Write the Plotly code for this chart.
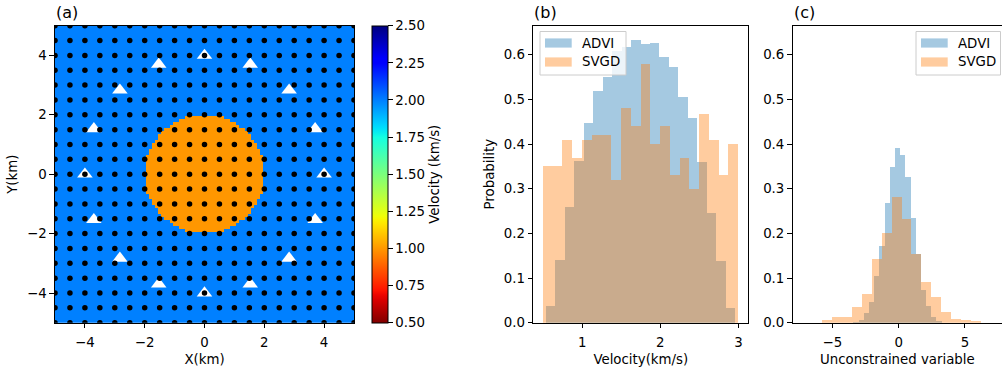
import numpy as np
import plotly.graph_objects as go

W, H = 1002, 372
FONT = "DejaVu Sans"
FS = 13.33

# ---------------- data ----------------
# panel (a): velocity model
background_velocity = 2.0
anomaly_velocity = 1.0
anomaly_radius = 2.0
model_coords = [round(-5 + 0.1 * i, 1) for i in range(101)]
station_grid = [round(-5 + 0.5 * i, 1) for i in range(21)]
receiver_x = [4.0, 3.70, 2.83, 1.53, 0.0, -1.53, -2.83, -3.70,
              -4.0, -3.70, -2.83, -1.53, 0.0, 1.53, 2.83, 3.70]
receiver_y = [0.0, 1.53, 2.83, 3.70, 4.0, 3.70, 2.83, 1.53,
              0.0, -1.53, -2.83, -3.70, -4.0, -3.70, -2.83, -1.53]
velocity_ticks = [0.50, 0.75, 1.00, 1.25, 1.50, 1.75, 2.00, 2.25, 2.50]
map_ticks = [-4, -2, 0, 2, 4]

# panel (b): velocity histograms
b_advi_start, b_advi_width = 0.54, 0.121
b_advi_heights = [0.038, 0.141, 0.259, 0.362, 0.447, 0.519, 0.550, 0.608, 0.617, 0.634,
                  0.625, 0.626, 0.595, 0.573, 0.507, 0.459, 0.361, 0.247, 0.139, 0.034]
b_svgd_start, b_svgd_width = 0.50, 0.125
b_svgd_heights = [0.351, 0.351, 0.410, 0.370, 0.410, 0.421, 0.421, 0.320, 0.481, 0.441,
                  0.581, 0.400, 0.441, 0.331, 0.370, 0.300, 0.469, 0.410, 0.331, 0.400]
b_xticks = [1, 2, 3]

# panel (c): unconstrained-variable histograms
c_advi_start, c_advi_width = -3.44, 0.392
c_advi_heights = [0.002, 0.006, 0.022, 0.046, 0.105, 0.172, 0.268, 0.349, 0.392,
                  0.376, 0.327, 0.235, 0.154, 0.075, 0.037, 0.013, 0.004]
c_svgd_start, c_svgd_width = -5.78, 0.747
c_svgd_heights = [0.006, 0.013, 0.013, 0.035, 0.064, 0.143, 0.201, 0.282,
                  0.232, 0.154, 0.091, 0.058, 0.024, 0.008, 0.006, 0.004]
c_xticks = [-5, 0, 5]
prob_ticks = [0.0, 0.1, 0.2, 0.3, 0.4, 0.5, 0.6]

ADVI_FILL = "rgba(31,119,180,0.4)"
SVGD_FILL = "rgba(255,127,14,0.4)"

# ---------------- colormap (matplotlib jet, reversed) ----------------
_r = [(0, 0), (0.35, 0), (0.66, 1), (0.89, 1), (1, 0.5)]
_g = [(0, 0), (0.125, 0), (0.375, 1), (0.64, 1), (0.91, 0), (1, 0)]
_b = [(0, 0.5), (0.11, 1), (0.34, 1), (0.65, 0), (1, 0)]


def _seg(seg, t):
    return float(np.interp(t, [p[0] for p in seg], [p[1] for p in seg]))


def jet(t):
    return "rgb(%d,%d,%d)" % tuple(round(255 * _seg(s, t)) for s in (_r, _g, _b))


jet_r = [[p, jet(1 - p)] for p in np.linspace(0, 1, 65)]

# ---------------- helpers ----------------
def px(x):
    return x / W


def py(y):
    return 1 - y / H


def centers(start, width, n):
    return [start + width * (i + 0.5) for i in range(n)]


fig = go.Figure()

# panel (a)
mx = np.array(model_coords)
XX, YY = np.meshgrid(mx, mx)
vel = np.where(np.hypot(XX, YY) < anomaly_radius, anomaly_velocity, background_velocity)
fig.add_trace(go.Heatmap(
    x=model_coords, y=model_coords, z=vel.tolist(), colorscale=jet_r,
    zmin=0.5, zmax=2.5, zsmooth=False, xaxis="x", yaxis="y",
    colorbar=dict(
        x=px(372), xanchor="left", xpad=0, ypad=0, thickness=16,
        lenmode="pixels", len=297, y=py(174.2), yanchor="middle",
        outlinewidth=1, outlinecolor="black",
        ticks="outside", ticklen=4.7, tickwidth=1, tickcolor="black",
        tickvals=velocity_ticks, ticktext=["%.2f" % v for v in velocity_ticks],
        tickfont=dict(family=FONT, size=FS, color="black"),
        title=dict(text="Velocity (km/s)", side="right",
                   font=dict(family=FONT, size=FS, color="black")),
    ),
))
fig.add_trace(go.Scatter(
    x=receiver_x, y=receiver_y, mode="markers", xaxis="x", yaxis="y",
    marker=dict(symbol="triangle-up", size=13.5, color="white", line=dict(width=0)),
    showlegend=False,
))
gx, gy = np.meshgrid(station_grid, station_grid)
fig.add_trace(go.Scatter(
    x=gx.ravel().tolist(), y=gy.ravel().tolist(), mode="markers", xaxis="x", yaxis="y",
    marker=dict(size=5.5, color="black", line=dict(width=0)), showlegend=False,
))

# panel (b)
fig.add_trace(go.Bar(
    x=centers(b_advi_start, b_advi_width, len(b_advi_heights)), y=b_advi_heights,
    width=b_advi_width, marker=dict(color=ADVI_FILL, line=dict(width=0)),
    name="ADVI", xaxis="x2", yaxis="y2", showlegend=False,
))
fig.add_trace(go.Bar(
    x=centers(b_svgd_start, b_svgd_width, len(b_svgd_heights)), y=b_svgd_heights,
    width=b_svgd_width, marker=dict(color=SVGD_FILL, line=dict(width=0)),
    name="SVGD", xaxis="x2", yaxis="y2", showlegend=False,
))

# panel (c)
fig.add_trace(go.Bar(
    x=centers(c_advi_start, c_advi_width, len(c_advi_heights)), y=c_advi_heights,
    width=c_advi_width, marker=dict(color=ADVI_FILL, line=dict(width=0)),
    name="ADVI", xaxis="x3", yaxis="y3", showlegend=False,
))
fig.add_trace(go.Bar(
    x=centers(c_svgd_start, c_svgd_width, len(c_svgd_heights)), y=c_svgd_heights,
    width=c_svgd_width, marker=dict(color=SVGD_FILL, line=dict(width=0)),
    name="SVGD", xaxis="x3", yaxis="y3", showlegend=False,
))

tickfont = dict(family=FONT, size=FS, color="black")
titlefont = dict(family=FONT, size=FS, color="black")
common = dict(showline=True, linecolor="black", linewidth=1, ticks="outside",
              ticklen=4.7, tickwidth=1, tickcolor="black", showgrid=False,
              zeroline=False, tickfont=tickfont, automargin=False)
xcommon = dict(common, ticklabelstandoff=3)
ydom = [py(322.7), py(25.7)]

fig.update_layout(
    template="none",
    width=W, height=H, margin=dict(l=0, r=0, t=0, b=0, autoexpand=False),
    paper_bgcolor="white", plot_bgcolor="white",
    barmode="overlay", bargap=0, showlegend=False,
    font=dict(family=FONT, size=FS, color="black"),
    xaxis=dict(domain=[px(55), px(354)], range=[-5, 5], tickvals=map_ticks,
               mirror=True, anchor="y",
               title=dict(text="X(km)", font=titlefont, standoff=5), **xcommon),
    yaxis=dict(domain=ydom, range=[-5, 5], tickvals=map_ticks, mirror=True, anchor="x",
               title=dict(text="Y(km)", font=titlefont, standoff=6), **common),
    xaxis2=dict(domain=[px(533.3), px(748.3)], range=[0.375, 3.125], tickvals=b_xticks,
                mirror=True, anchor="y2",
                title=dict(text="Velocity(km/s)", font=titlefont, standoff=5), **xcommon),
    yaxis2=dict(domain=ydom, range=[0, 0.665], tickvals=prob_ticks, tickformat=".1f",
                mirror=True, anchor="x2",
                title=dict(text="Probability", font=titlefont, standoff=6), **common),
    xaxis3=dict(domain=[px(792.7), 1.0], range=[-8, 7.8], tickvals=c_xticks,
                mirror=True, anchor="y3",
                title=dict(text="Unconstrained variable", font=titlefont, standoff=5),
                **xcommon),
    yaxis3=dict(domain=ydom, range=[0, 0.665], tickvals=prob_ticks, tickformat=".1f",
                mirror=False, anchor="x3", **common),
)

# panel labels
for label, x0 in (("(a)", 55), ("(b)", 533.3), ("(c)", 792.7)):
    fig.add_annotation(text=label, x=px(x0 - 1), y=py(13), xref="paper", yref="paper",
                       xanchor="left", yanchor="middle", showarrow=False,
                       font=dict(family=FONT, size=16, color="black"))

# legends (matplotlib-style boxes)
def legend(x0, x1, y0, y1, patch_x0, text_x):
    fig.add_shape(type="rect", xref="paper", yref="paper", layer="above",
                  x0=px(x0), x1=px(x1), y0=py(y1), y1=py(y0),
                  fillcolor="rgba(255,255,255,0.8)", line=dict(color="#cccccc", width=1))
    for (yc, fill, name) in ((43, ADVI_FILL, "ADVI"), (62, SVGD_FILL, "SVGD")):
        fig.add_shape(type="rect", xref="paper", yref="paper", layer="above",
                      x0=px(patch_x0), x1=px(patch_x0 + 26.7), y0=py(yc + 4.6), y1=py(yc - 4.6),
                      fillcolor=fill, line=dict(width=0))
        fig.add_annotation(text=name, x=px(text_x), y=py(yc), xref="paper", yref="paper",
                           xanchor="left", yanchor="middle", showarrow=False,
                           font=dict(family=FONT, size=FS, color="black"))


legend(540, 626, 31.5, 75, 545, 580)
legend(916, 1000.5, 31.5, 75, 921, 956)

fig.write_html("out.html")
